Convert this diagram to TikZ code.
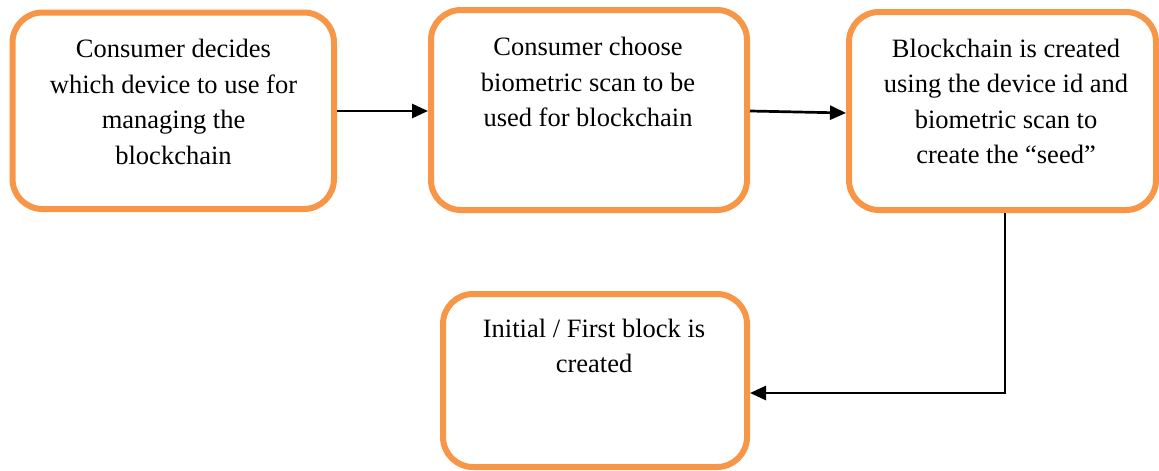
\documentclass[tikz,border=0pt]{standalone}
\usepackage{fontspec}
\setmainfont{Liberation Serif}
\usetikzlibrary{arrows.meta}
\definecolor{boxorange}{HTML}{F79646}
\tikzset{
  box/.style={draw=boxorange, line width=6pt, rounded corners=30pt, fill=white, inner sep=0pt},
  txt/.style={anchor=base, align=center, inner sep=0pt, font=\fontsize{26.5}{35.5}\selectfont},
  conn/.style={line width=2.7pt, -{Triangle[length=16pt,width=14pt]}}
}
\begin{document}
\begin{tikzpicture}[x=1pt,y=-1pt]
\useasboundingbox (0,0) rectangle (1159,471);
\node[box, minimum width=321.5pt, minimum height=196.5pt] (b1) at (173.25,110.75) {};
\node[box, minimum width=316pt, minimum height=200pt] (b2) at (589,110) {};
\node[box, minimum width=307pt, minimum height=198pt] (b3) at (1002.5,111) {};
\node[box, minimum width=304pt, minimum height=173pt] (b4) at (595,380.5) {};
% anchor=base is the baseline of the last line
\node[txt] (t1) at (173.5,164) {Consumer decides\\which device to use for\\managing the\\blockchain};
\node[txt] (t2) at (588,126.5) {Consumer choose\\biometric scan to be\\used for blockchain};
\node[txt] (t3) at (1006,163.5) {Blockchain is created\\using the device id and\\biometric scan to\\create the “seed”};
\node[txt] (t4) at (594,372.5) {Initial / First block is\\created};
\draw[conn] (b1.east |- 0,111) -- (b2.west |- 0,111);
\draw[conn] (b2.east |- 0,111) -- (b3.west |- 0,113);
\coordinate (c3) at (1005,393);
\draw[conn] (b3.south -| c3) -- (c3) -- (b4.east |- c3);
\end{tikzpicture}
\end{document}
